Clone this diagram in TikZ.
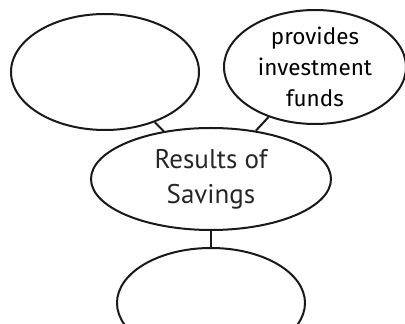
\documentclass[tikz,border=0pt]{standalone}
\usepackage{fontspec}
\setmainfont{PT Sans}
\newfontfamily\handfont{Fira Sans}
\usetikzlibrary{shapes.geometric}
\tikzset{
  bubble/.style={ellipse, draw=black!90, line width=2pt, inner sep=0pt, align=center},
  link/.style={draw=black!90, line width=2pt},
  maintext/.style={font=\fontsize{27}{35}\selectfont, text=black!85},
  handtext/.style={font=\handfont\fontsize{22.5}{31}\selectfont, text=black}
}
\begin{document}
\begin{tikzpicture}[x=1pt,y=1pt]
\clip (0,0) rectangle (405,324);
\node[bubble, minimum width=188pt, minimum height=116pt] (tl) at (105,252) {};
\node[bubble, minimum width=182pt, minimum height=114pt, handtext] (tr) at (315,257) {provides\\investment\\funds};
\node[bubble, minimum width=240pt, minimum height=102pt, maintext] (c) at (211,145) {Results of\\Savings};
\node[bubble, minimum width=188pt, minimum height=110pt] (b) at (211,21) {};
\draw[link] (tl) -- (c);
\draw[link] (tr) -- (c);
\draw[link] (c) -- (b);
\end{tikzpicture}
\end{document}
